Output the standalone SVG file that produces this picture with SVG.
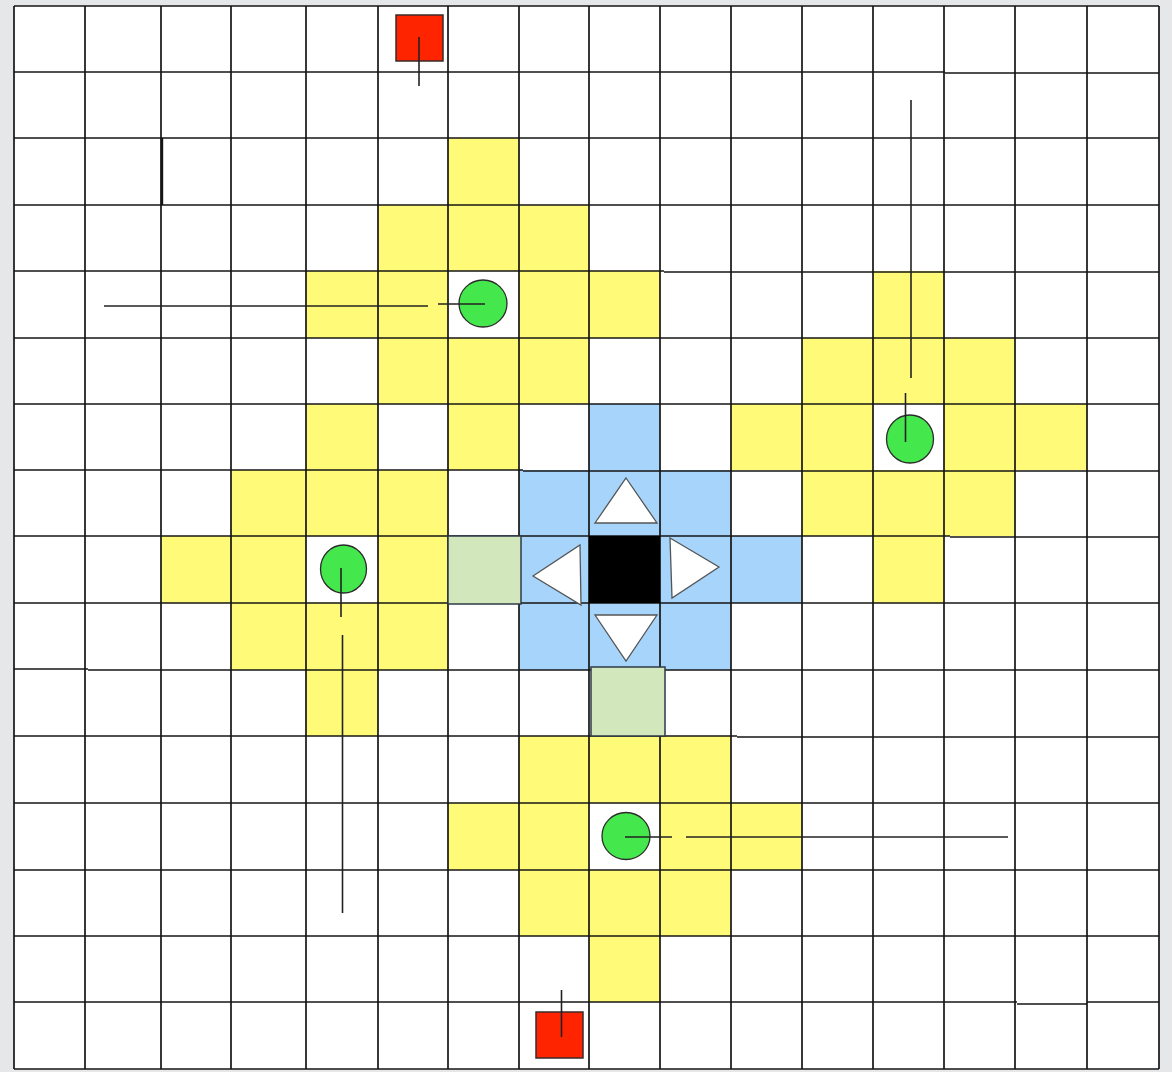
<svg xmlns="http://www.w3.org/2000/svg" width="1172" height="1072" viewBox="0 0 1172 1072">
  <style>
    .y{fill:#fffa78}
    .b{fill:#a6d4fb}
    .lg{fill:#d3e7bd;stroke:#2e3a48;stroke-width:1.5}
    .g line{stroke:#151515;stroke-width:1.7}
    .tri{fill:#ffffff;stroke:#555;stroke-width:1.3;stroke-linejoin:miter}
    .dot{fill:#44e84c;stroke:#2b2b2b;stroke-width:1.3}
    .red{fill:#ff2400;stroke:#3a2a2a;stroke-width:1.5}
    .conn line{stroke:#222;stroke-width:1.6}
  </style>
  <rect x="0" y="0" width="1172" height="1072" fill="#e6e7e9"/>
  <rect x="14" y="6" width="1145" height="1063" fill="#ffffff"/>

  <g id="zones">
    <g id="zone-top">
      <rect class="y" x="448" y="138" width="71" height="67"/>
      <rect class="y" x="378" y="205" width="211" height="66"/>
      <rect class="y" x="306" y="271" width="142" height="67"/>
      <rect class="y" x="519" y="271" width="141" height="67"/>
      <rect class="y" x="378" y="338" width="211" height="66"/>
      <rect class="y" x="448" y="404" width="71" height="66"/>
    </g>
    <g id="zone-right">
      <rect class="y" x="873" y="271" width="71" height="67"/>
      <rect class="y" x="802" y="338" width="213" height="66"/>
      <rect class="y" x="731" y="404" width="142" height="66"/>
      <rect class="y" x="944" y="404" width="143" height="66"/>
      <rect class="y" x="802" y="470" width="213" height="66"/>
      <rect class="y" x="873" y="536" width="71" height="67"/>
    </g>
    <g id="zone-left">
      <rect class="y" x="306" y="404" width="72" height="66"/>
      <rect class="y" x="231" y="470" width="217" height="66"/>
      <rect class="y" x="161" y="536" width="145" height="67"/>
      <rect class="y" x="378" y="536" width="70" height="67"/>
      <rect class="y" x="231" y="603" width="217" height="67"/>
      <rect class="y" x="306" y="670" width="72" height="66"/>
    </g>
    <g id="zone-bottom">
      <rect class="y" x="519" y="736" width="212" height="67"/>
      <rect class="y" x="448" y="803" width="141" height="67"/>
      <rect class="y" x="660" y="803" width="142" height="67"/>
      <rect class="y" x="519" y="870" width="212" height="66"/>
      <rect class="y" x="589" y="936" width="71" height="66"/>
    </g>
    <g id="zone-blue">
      <rect class="b" x="589" y="404" width="71" height="66"/>
      <rect class="b" x="519" y="470" width="212" height="66"/>
      <rect class="b" x="519" y="536" width="70" height="67"/>
      <rect class="b" x="660" y="536" width="142" height="67"/>
      <rect class="b" x="519" y="603" width="212" height="67"/>
    </g>
  </g>

  <g id="grid" class="g">
    <line x1="14" y1="6" x2="14" y2="1069"/>
    <line x1="85" y1="6" x2="85" y2="1069"/>
    <line x1="161" y1="6" x2="161" y2="1069"/>
    <line x1="231" y1="6" x2="231" y2="1069"/>
    <line x1="306" y1="6" x2="306" y2="1069"/>
    <line x1="378" y1="6" x2="378" y2="1069"/>
    <line x1="448" y1="6" x2="448" y2="1069"/>
    <line x1="519" y1="6" x2="519" y2="1069"/>
    <line x1="589" y1="6" x2="589" y2="1069"/>
    <line x1="660" y1="6" x2="660" y2="1069"/>
    <line x1="731" y1="6" x2="731" y2="1069"/>
    <line x1="802" y1="6" x2="802" y2="1069"/>
    <line x1="873" y1="6" x2="873" y2="1069"/>
    <line x1="944" y1="6" x2="944" y2="1069"/>
    <line x1="1015" y1="6" x2="1015" y2="1069"/>
    <line x1="1087" y1="6" x2="1087" y2="1069"/>
    <line x1="1159" y1="6" x2="1159" y2="1069"/>

    <line x1="14" y1="6" x2="1159" y2="6"/>
    <line x1="14" y1="72" x2="945" y2="72"/>
    <line x1="945" y1="73" x2="1159" y2="73"/>
    <line x1="14" y1="138" x2="1159" y2="138"/>
    <line x1="14" y1="205" x2="1159" y2="205"/>
    <line x1="14" y1="271" x2="664" y2="271"/>
    <line x1="664" y1="272" x2="1159" y2="272"/>
    <line x1="14" y1="338" x2="1159" y2="338"/>
    <line x1="14" y1="404" x2="1159" y2="404"/>
    <line x1="14" y1="470" x2="523" y2="470"/>
    <line x1="523" y1="471" x2="1159" y2="471"/>
    <line x1="14" y1="536" x2="950" y2="536"/>
    <line x1="950" y1="537" x2="1159" y2="537"/>
    <line x1="14" y1="603" x2="1159" y2="603"/>
    <line x1="14" y1="669" x2="88" y2="669"/>
    <line x1="88" y1="670" x2="1159" y2="670"/>
    <line x1="14" y1="736" x2="737" y2="736"/>
    <line x1="737" y1="737" x2="1159" y2="737"/>
    <line x1="14" y1="803" x2="1159" y2="803"/>
    <line x1="14" y1="870" x2="1159" y2="870"/>
    <line x1="14" y1="936" x2="595" y2="936"/>
    <line x1="595" y1="936" x2="1159" y2="936"/>
    <line x1="14" y1="1002" x2="1017" y2="1002"/>
    <line x1="1017" y1="1004" x2="1087" y2="1004"/>
    <line x1="1087" y1="1002" x2="1159" y2="1002"/>
    <line x1="14" y1="1069" x2="1159" y2="1069"/>
    <line x1="162" y1="138" x2="162" y2="205" style="stroke-width:2.4"/>
  </g>

  <g id="special-cells">
    <rect id="cell-left-green" class="lg" x="448" y="536" width="73" height="68"/>
    <rect id="cell-bottom-green" class="lg" x="591" y="667" width="74" height="69"/>
    <rect id="agent" x="589" y="536" width="71" height="67" fill="#000000"/>
    <polygon id="arrow-up" class="tri" points="626,478 657,523 595,523"/>
    <polygon id="arrow-down" class="tri" points="595,615 657,615 626,661"/>
    <polygon id="arrow-right" class="tri" points="670,538 719,567 672,598"/>
    <polygon id="arrow-left" class="tri" points="533,576 580,545 581,605"/>
  </g>

  <g id="node-red-top"><rect class="red" x="396" y="15" width="47" height="46"/></g>
  <g id="node-red-bottom"><rect class="red" x="536" y="1012" width="47" height="46"/></g>
  <g id="node-green-top"><ellipse class="dot" cx="483" cy="303.5" rx="24" ry="23.5"/></g>
  <g id="node-green-right"><ellipse class="dot" cx="910" cy="439" rx="23.5" ry="24"/></g>
  <g id="node-green-left"><ellipse class="dot" cx="343.5" cy="569" rx="23" ry="24"/></g>
  <g id="node-green-bottom"><ellipse class="dot" cx="626" cy="836" rx="24" ry="23.5"/></g>

  <g id="connectors" class="conn">
    <line x1="419" y1="37" x2="419" y2="86"/>
    <line x1="104" y1="306" x2="428" y2="306"/>
    <line x1="438" y1="304" x2="485" y2="304"/>
    <line x1="911" y1="100" x2="911" y2="378"/>
    <line x1="905.5" y1="393" x2="905.5" y2="442"/>
    <line x1="341" y1="568" x2="341" y2="617"/>
    <line x1="342.5" y1="635" x2="342.5" y2="913"/>
    <line x1="625" y1="837" x2="672" y2="837"/>
    <line x1="686" y1="837" x2="1008" y2="837"/>
    <line x1="561.5" y1="990" x2="561.5" y2="1037"/>
  </g>
</svg>
